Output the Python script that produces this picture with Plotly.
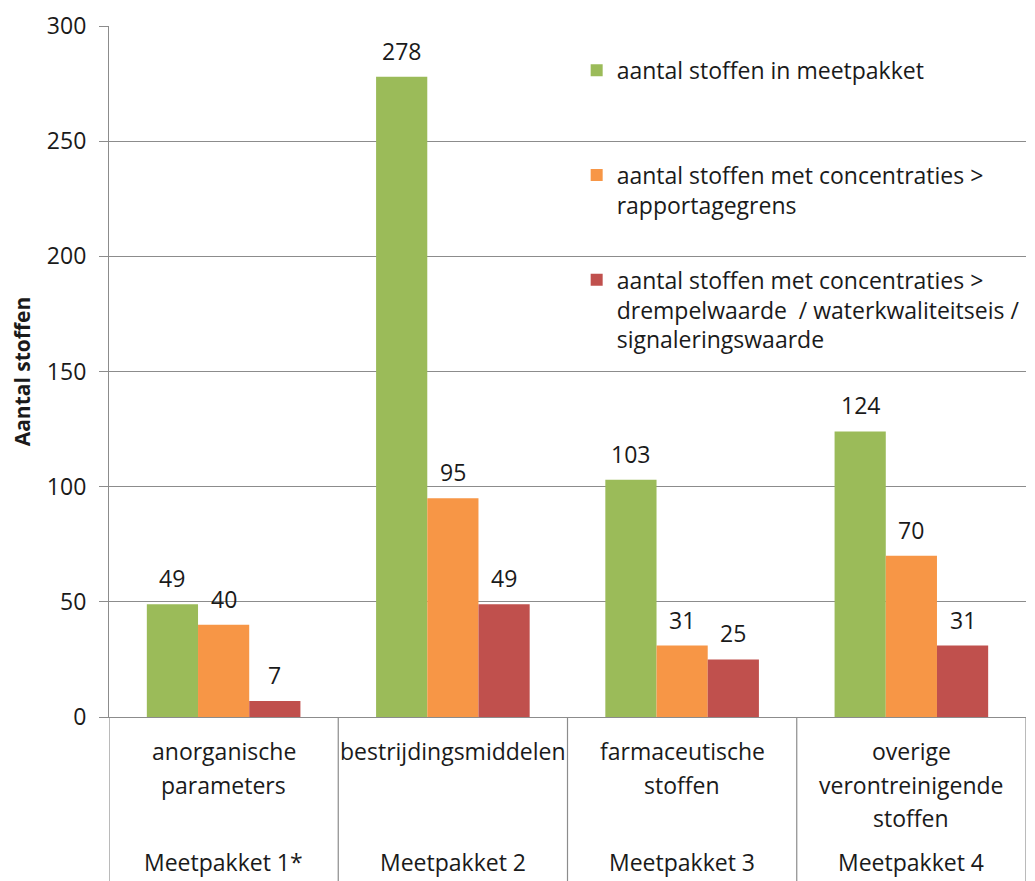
import plotly.graph_objects as go

categories = ["anorganische\nparameters", "bestrijdingsmiddelen", "farmaceutische\nstoffen",
              "overige\nverontreinigende\nstoffen"]
packages = ["Meetpakket 1*", "Meetpakket 2", "Meetpakket 3", "Meetpakket 4"]
series_names = [
    "aantal stoffen in meetpakket",
    "aantal stoffen met concentraties ><br>rapportagegrens",
    "aantal stoffen met concentraties ><br>drempelwaarde  / waterkwaliteitseis /<br>signaleringswaarde",
]
stoffen_totaal = [49, 278, 103, 124]
stoffen_rapportage = [40, 95, 31, 70]
stoffen_drempel = [7, 49, 25, 31]
colors = ["#9BBB59", "#F79646", "#C0504D"]

FONT = "Open Sans"
FS = 23
TXT = "#1a1a1a"
GRID = "#8c8c8c"
BARGAP = 0.33

series_values = [stoffen_totaal, stoffen_rapportage, stoffen_drempel]
xcat = [c.replace("\n", " ") for c in categories]

fig = go.Figure()
# pad legend text to 3 lines so that entries get equal slots
for j, (name, vals, col) in enumerate(zip(series_names, series_values, colors)):
    nlines = name.count("<br>") + 1
    padded = name + "<br> " * (3 - nlines)
    fig.add_trace(go.Bar(
        x=xcat, y=vals, name=padded, marker=dict(color=col, line=dict(width=0)),
        legendgroup=f"g{j}",
    ))

# data labels above bars
w = (1 - BARGAP) / 3
annotations = []
for j, vals in enumerate(series_values):
    for i, v in enumerate(vals):
        annotations.append(dict(
            x=i + (j - 1) * w, y=v, xref="x", yref="y", text=str(v), showarrow=False,
            yanchor="bottom", yshift=8, font=dict(family=FONT, size=FS, color=TXT)))

# category labels below axis
for i, cat in enumerate(categories):
    for k, line in enumerate(cat.split("\n")):
        annotations.append(dict(
            x=i, y=0, xref="x", yref="paper", text=line, showarrow=False,
            yanchor="middle", yshift=-(34 + k * 33.5),
            font=dict(family=FONT, size=FS, color=TXT)))
    annotations.append(dict(
        x=i, y=0, xref="x", yref="paper", text=packages[i], showarrow=False,
        yanchor="bottom", yshift=-163, font=dict(family=FONT, size=FS, color=TXT)))

# divider lines in the category area
shapes = []
for b in [i - 0.5 for i in range(len(categories) + 1)]:
    shapes.append(dict(type="line", xref="x", yref="paper", x0=b, x1=b, y0=0, y1=-0.25,
                       line=dict(color=GRID, width=1.2)))

fig.update_layout(
    width=1035, height=881,
    margin=dict(l=109, r=9, t=24, b=164),
    paper_bgcolor="white", plot_bgcolor="white",
    barmode="group", bargap=BARGAP, bargroupgap=0,
    font=dict(family=FONT, size=FS, color=TXT),
    showlegend=True,
    legend=dict(x=0.51, y=0.967, xanchor="left", yanchor="top", bgcolor="rgba(0,0,0,0)",
                font=dict(family=FONT, size=FS, color=TXT), valign="top",
                tracegroupgap=12, traceorder="grouped"),
    annotations=annotations,
    shapes=shapes,
)
fig.update_xaxes(showticklabels=False, showline=True, linecolor=GRID, linewidth=1.2,
                 ticks="", showgrid=False, range=[-0.5, 3.5])
fig.update_yaxes(range=[0, 300], dtick=50, showgrid=True, gridcolor=GRID, gridwidth=1.2,
                 showline=True, linecolor=GRID, linewidth=1.2, ticks="outside", ticklen=9,
                 tickcolor=GRID, tickwidth=1.2, zeroline=False, ticklabelstandoff=8,
                 tickfont=dict(family=FONT, size=FS, color=TXT),
                 title=dict(text="<b>Aantal stoffen</b>", standoff=10,
                            font=dict(family=FONT, size=21, color=TXT)))

fig.write_html("out.html")
